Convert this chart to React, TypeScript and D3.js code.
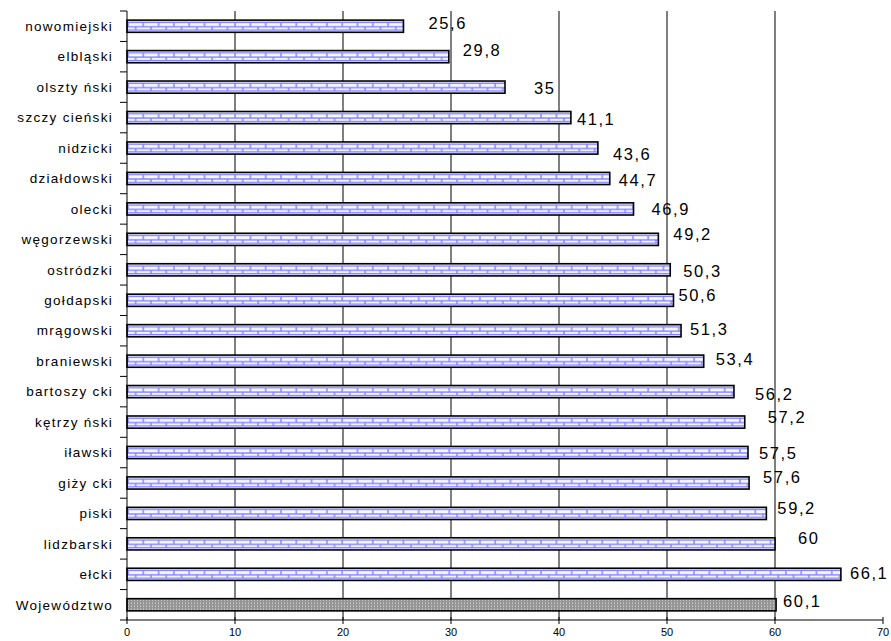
import React from "react";
import * as d3 from "d3";

const categories = [
  "nowomiejski", "elbląski", "olszty ński", "szczy cieński", "nidzicki",
  "działdowski", "olecki", "węgorzewski", "ostródzki", "gołdapski",
  "mrągowski", "braniewski", "bartoszy cki", "kętrzy ński", "iławski",
  "giży cki", "piski", "lidzbarski", "ełcki", "Województwo",
];
const values = [
  25.6, 29.8, 35, 41.1, 43.6, 44.7, 46.9, 49.2, 50.3, 50.6,
  51.3, 53.4, 56.2, 57.2, 57.5, 57.6, 59.2, 60, 66.1, 60.1,
];
const valueLabels = [
  "25,6", "29,8", "35", "41,1", "43,6", "44,7", "46,9", "49,2", "50,3", "50,6",
  "51,3", "53,4", "56,2", "57,2", "57,5", "57,6", "59,2", "60", "66,1", "60,1",
];
const xTicks = [0, 10, 20, 30, 40, 50, 60, 70];
// label nudges (dx from bar end, dy from bar centre), as placed in the original
const labelDx = [25, 14, 29, 6, 15, 9, 18, 15, 13, 5, 9, 12, 21, 23, 11, 14, 11, 23, 9, 7];
const labelDy = [-3, -7, 1, 1, 6, 2, 0, -5, 1, -5, -2, -2, 2, -5, 1, -6, -5, -6, -1, -4];

const W = 891;
const H = 641;
const FONT = "'Liberation Sans', Arial, sans-serif";

export default function App() {
  const x = d3.scaleLinear().domain([0, 70]).range([127, 883]);
  const y = d3
    .scaleBand<string>()
    .domain(categories)
    .range([11, 620])
    .paddingInner(0.6)
    .paddingOuter(0.3);
  const bw = y.bandwidth();
  const step = y.step();
  const top = 11;
  const bottom = 620;
  const brickW = 15.3;
  const blue = "#8080ff";

  return (
    <svg
      width={W}
      height={H}
      style={{ position: "absolute", left: 0, top: 0, background: "#fff" }}
      fontFamily={FONT}
    >
      <defs>
        {categories.map((c, i) => {
          const yt = y(c)!;
          if (i === categories.length - 1) {
            return (
              <pattern
                key={c}
                id={`pat-${i}`}
                patternUnits="userSpaceOnUse"
                x={127}
                y={yt}
                width={3}
                height={3}
              >
                <rect width={3} height={3} fill="#969696" />
                <rect x={1} y={1} width={1} height={1} fill="#e0e0e0" />
              </pattern>
            );
          }
          return (
            <pattern
              key={c}
              id={`pat-${i}`}
              patternUnits="userSpaceOnUse"
              x={127}
              y={yt}
              width={brickW}
              height={bw}
            >
              <rect width={brickW} height={bw} fill="#f8f8ff" />
              <line x1={0} x2={brickW} y1={2.2} y2={2.2} stroke={blue} strokeWidth={1.4} />
              <line x1={0} x2={brickW} y1={bw / 2 + 0.5} y2={bw / 2 + 0.5} stroke={blue} strokeWidth={1.4} />
              <line x1={0} x2={brickW} y1={bw - 2.2} y2={bw - 2.2} stroke={blue} strokeWidth={1.4} />
              <line x1={1} x2={1} y1={2} y2={bw / 2 + 0.5} stroke={blue} strokeWidth={1.4} />
              <line x1={1 + brickW / 2} x2={1 + brickW / 2} y1={bw / 2 + 0.5} y2={bw - 2} stroke={blue} strokeWidth={1.4} />
            </pattern>
          );
        })}
      </defs>

      {/* vertical gridlines */}
      {xTicks
        .filter((t) => t > 0 && t < 70)
        .map((t) => (
          <line key={`g${t}`} x1={x(t)} x2={x(t)} y1={top} y2={bottom} stroke="#000" strokeWidth={1} />
        ))}

      {/* bars */}
      {categories.map((c, i) => (
        <rect
          key={`b${c}`}
          x={x(0)}
          y={y(c)!}
          width={x(values[i]) - x(0)}
          height={bw}
          fill={`url(#pat-${i})`}
          stroke="#000"
          strokeWidth={1.6}
        />
      ))}

      {/* axes */}
      <line x1={x(0)} x2={x(0)} y1={top} y2={bottom} stroke="#000" strokeWidth={1} />
      <line x1={x(0)} x2={x(70)} y1={bottom} y2={bottom} stroke="#000" strokeWidth={1} />
      {d3.range(categories.length + 1).map((k) => (
        <line
          key={`yt${k}`}
          x1={x(0) - 7}
          x2={x(0)}
          y1={top + k * step}
          y2={top + k * step}
          stroke="#000"
          strokeWidth={1}
        />
      ))}
      {xTicks.map((t) => (
        <g key={`xt${t}`}>
          <line x1={x(t)} x2={x(t)} y1={bottom - 3} y2={bottom + 4} stroke="#000" strokeWidth={1} />
          <text x={x(t)} y={bottom + 16} fontSize={11} textAnchor="middle" fill="#000">
            {t}
          </text>
        </g>
      ))}

      {/* category labels */}
      {categories.map((c) => (
        <text
          key={`cl${c}`}
          x={113}
          y={y(c)! + bw / 2}
          dy="0.35em"
          fontSize={13.5}
          letterSpacing={1.3}
          textAnchor="end"
          fill="#000"
        >
          {c}
        </text>
      ))}

      {/* value labels */}
      {categories.map((c, i) => (
        <text
          key={`vl${c}`}
          x={x(values[i]) + labelDx[i]}
          y={y(c)! + bw / 2 + labelDy[i]}
          dy="0.36em"
          fontSize={16.5}
          letterSpacing={1.6}
          fill="#000"
        >
          {valueLabels[i]}
        </text>
      ))}
    </svg>
  );
}
